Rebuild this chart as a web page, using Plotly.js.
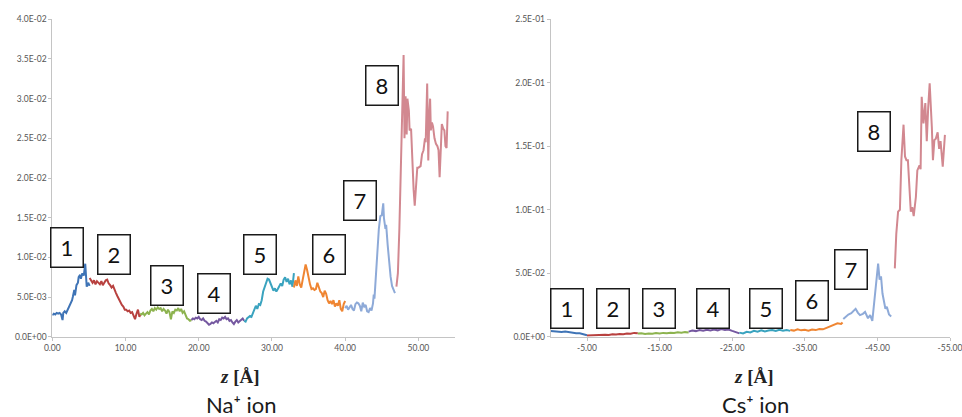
<!DOCTYPE html>
<html>
<head>
<meta charset="utf-8">
<script src="https://cdn.plot.ly/plotly-3.0.1.min.js"></script>
<style>
  html, body { margin: 0; padding: 0; background: #ffffff; }
  #plot { width: 962px; height: 417px; }
</style>
</head>
<body>
<div id="plot"></div>
<script>
// ---- Na+ ion: density along z [Å], one trace per region (1..8) ----
const naZ1 = [0.0,0.2,0.4,0.6,0.8,1.0,1.2,1.4,1.5,1.7,1.9,2.1,2.3,2.5,2.7,2.8,3.0,3.1,3.3,3.5,3.6,3.8,3.9,4.1,4.3,4.5,4.6,4.7,4.9,5.1];
const naV1 = [2.7,2.9,2.8,3.0,2.9,3.0,2.8,2.1,3.0,3.2,3.0,3.4,3.7,4.2,4.6,5.0,5.9,5.2,6.5,6.8,7.5,7.8,7.3,8.0,7.7,9.2,7.8,6.3,6.8,6.4];
const naZ2 = [5.1,5.3,5.5,5.7,5.9,6.1,6.3,6.5,6.7,6.9,7.1,7.3,7.5,7.7,7.9,8.1,8.3,8.5,8.7,8.9,9.1,9.3,9.5,9.7,9.9,10.1,10.3,10.5,10.7,10.9,11.1,11.3,11.5,11.7,11.9,12.0];
const naV2 = [7.4,7.0,6.8,7.1,6.6,7.0,6.8,6.6,7.0,6.5,6.8,7.1,7.2,6.7,6.5,6.2,6.4,5.8,5.5,5.1,4.7,4.4,4.0,3.8,3.4,3.4,3.2,3.3,3.0,3.1,2.6,2.2,2.9,3.4,2.5,2.8];
const naZ3 = [12.0,12.2,12.4,12.6,12.8,13.0,13.2,13.4,13.6,13.8,14.0,14.2,14.4,14.6,14.8,15.0,15.2,15.4,15.6,15.8,16.0,16.2,16.4,16.6,16.8,17.0,17.2,17.4,17.6,17.8,18.0,18.2,18.4,18.6,18.8,19.0];
const naV3 = [2.9,2.8,3.0,2.7,2.9,3.1,2.8,3.3,3.5,3.2,3.6,3.4,3.7,3.5,3.6,3.2,3.5,3.3,2.9,3.4,3.1,2.2,3.2,3.0,3.4,3.3,3.6,3.2,3.5,3.0,3.2,2.6,2.3,2.2,2.0,2.1];
const naZ4 = [19.0,19.2,19.4,19.6,19.8,20.0,20.2,20.4,20.6,20.8,21.0,21.2,21.4,21.6,21.8,22.0,22.2,22.4,22.6,22.8,23.0,23.2,23.4,23.6,23.8,24.0,24.2,24.4,24.6,24.8,25.0,25.2,25.4,25.6,25.8,26.0,26.2];
const naV4 = [2.1,2.3,2.2,2.4,2.3,2.5,2.2,2.1,2.3,2.0,1.9,1.7,1.5,1.6,1.8,1.7,1.9,2.0,1.8,2.2,2.1,2.4,2.3,2.5,2.2,2.3,2.0,2.1,1.8,1.6,1.9,2.1,1.8,2.0,2.1,2.3,2.0];
const naZ5 = [26.2,26.4,26.6,26.8,27.0,27.2,27.4,27.6,27.8,28.0,28.2,28.4,28.6,28.8,29.0,29.2,29.4,29.6,29.8,30.0,30.2,30.4,30.6,30.8,31.0,31.2,31.4,31.6,31.8,32.0,32.2,32.4,32.6,32.8,33.0];
const naV5 = [2.0,1.9,2.3,2.5,2.6,2.5,3.0,3.4,3.9,3.5,4.1,4.0,4.6,5.7,6.3,6.8,7.3,7.2,6.7,6.2,5.8,6.1,5.7,6.0,6.3,6.7,6.4,7.2,7.5,6.9,7.3,6.6,7.1,6.3,8.0];
const naZ6 = [33.0,33.2,33.4,33.6,33.8,34.0,34.2,34.4,34.6,34.8,35.0,35.2,35.4,35.6,35.8,36.0,36.2,36.4,36.6,36.8,37.0,37.2,37.4,37.6,37.8,38.0,38.2,38.4,38.6,38.8,39.0,39.2,39.4,39.6,39.8,40.0];
const naV6 = [6.2,7.1,6.4,7.6,6.6,6.2,7.2,8.3,9.1,8.4,7.3,6.6,6.0,6.1,5.9,6.0,6.8,6.2,5.7,5.5,5.0,5.8,5.4,4.6,4.2,4.5,4.1,4.6,3.8,4.2,3.9,4.6,3.5,3.2,4.1,4.5];
const naZ7 = [40.0,40.2,40.4,40.6,40.8,41.0,41.2,41.4,41.6,41.8,42.0,42.2,42.4,42.6,42.8,43.0,43.2,43.4,43.6,43.8,43.9,44.0,44.2,44.4,44.6,44.8,45.0,45.2,45.3,45.5,45.6,45.8,46.0,46.2,46.4,46.6,46.8];
const naV7 = [3.6,3.9,3.4,3.7,4.0,3.5,3.3,4.1,4.3,4.2,3.9,3.2,4.3,3.8,4.0,3.2,3.1,3.6,3.3,4.2,5.3,4.8,7.8,11.0,13.6,15.2,15.3,16.8,14.9,13.6,14.1,11.6,9.5,7.6,6.4,5.8,5.5];
const naZ8 = [47.0,47.2,47.4,47.6,47.8,47.98,48.1,48.25,48.4,48.5,48.7,48.8,49.0,49.2,49.35,49.5,49.7,49.85,50.0,50.3,50.5,50.7,50.9,51.0,51.2,51.35,51.5,51.6,51.7,51.85,52.0,52.2,52.4,52.6,52.75,52.9,53.1,53.2,53.4,53.55,53.7,53.85,54.0];
const naV8 = [6.3,8.0,13.5,22.7,28.0,35.5,25.0,30.3,25.5,30.0,28.5,26.0,26.2,21.0,18.5,16.5,20.0,21.3,21.3,21.5,23.0,23.5,25.0,24.5,31.9,22.2,28.0,30.0,26.0,27.0,26.5,25.0,24.3,24.0,23.5,20.1,24.5,26.8,26.2,26.0,24.0,23.8,28.4];
const naScale = 1e-3;   // values above are in units of 1E-03

// ---- Cs+ ion: density along z [Å] ----
const csZ1 = [0,-0.5,-1.0,-1.5,-2.0,-2.5,-3.0,-3.5,-4.0,-4.5,-5.0];
const csV1 = [0.45,0.42,0.44,0.38,0.40,0.34,0.33,0.28,0.27,0.20,0.12];
const csZ2 = [-5.0,-5.5,-6.0,-6.5,-7.0,-7.5,-8.0,-8.5,-9.0,-9.5,-10.0,-10.5,-11.0,-11.5,-12.0];
const csV2 = [0.10,0.12,0.08,0.14,0.12,0.16,0.14,0.19,0.17,0.22,0.20,0.26,0.24,0.30,0.27];
const csZ3 = [-12.0,-12.5,-13.0,-13.5,-14.0,-14.5,-15.0,-15.5,-16.0,-16.5,-17.0,-17.5,-18.0,-18.5,-19.0];
const csV3 = [0.25,0.28,0.22,0.26,0.24,0.29,0.25,0.30,0.27,0.32,0.29,0.35,0.31,0.36,0.34];
const csZ4 = [-19.0,-19.5,-20.0,-20.5,-21.0,-21.5,-22.0,-22.5,-23.0,-23.5,-24.0,-24.5,-25.0,-25.5,-26.0];
const csV4 = [0.40,0.48,0.44,0.52,0.47,0.55,0.49,0.56,0.50,0.60,0.53,0.57,0.46,0.38,0.26];
const csZ5 = [-26.0,-26.5,-27.0,-27.5,-28.0,-28.5,-29.0,-29.5,-30.0,-30.5,-31.0,-31.5,-32.0,-32.5,-33.0];
const csV5 = [0.32,0.25,0.38,0.33,0.46,0.40,0.50,0.42,0.48,0.52,0.45,0.54,0.47,0.52,0.46];
const csZ6 = [-33.0,-33.5,-34.0,-34.5,-35.0,-35.5,-36.0,-36.5,-37.0,-37.5,-38.0,-38.5,-39.0,-39.5,-40.0,-40.2];
const csV6 = [0.52,0.48,0.58,0.50,0.55,0.47,0.56,0.52,0.60,0.58,0.70,0.82,0.92,1.05,1.00,1.12];
const csZ7 = [-40.3,-40.6,-41.0,-41.4,-41.8,-42.0,-42.3,-42.6,-43.0,-43.3,-43.7,-44.0,-44.3,-44.5,-44.7,-44.9,-45.1,-45.3,-45.5,-45.7,-45.9,-46.1,-46.3,-46.6,-46.9];
const csV7 = [1.40,1.55,1.75,1.85,2.05,2.20,1.90,1.70,1.80,1.95,1.45,1.70,1.25,2.40,3.60,4.60,5.75,4.50,4.75,3.40,2.80,2.20,2.35,1.75,1.60];
const csZ8 = [-47.4,-47.6,-47.85,-48.1,-48.3,-48.6,-48.8,-49.0,-49.2,-49.5,-49.6,-49.8,-50.0,-50.3,-50.5,-50.8,-50.95,-51.1,-51.35,-51.6,-51.8,-52.0,-52.2,-52.5,-52.65,-52.85,-53.05,-53.3,-53.5,-53.7,-54.0,-54.3];
const csV8 = [5.38,8.1,9.85,10.0,13.9,16.7,14.2,13.9,13.9,10.8,9.85,10.2,9.5,11.0,13.1,13.5,13.2,18.9,16.8,18.4,15.4,18.1,19.95,16.5,13.9,15.5,15.6,16.1,14.8,15.4,13.4,15.9];
const csScale = 1e-2;   // values above are in units of 1E-02

const regionLabels = ['1','2','3','4','5','6','7','8'];
const regionColors = ['#3f74b6','#b8413f','#8db34f','#7558a0','#3aa3bf','#ef8532','#8eaad8','#d28890'];

const naTickVals = [0,0.005,0.010,0.015,0.020,0.025,0.030,0.035,0.040];
const naTickText = ['0.0E+00','5.0E-03','1.0E-02','1.5E-02','2.0E-02','2.5E-02','3.0E-02','3.5E-02','4.0E-02'];
const csTickVals = [0,0.05,0.10,0.15,0.20,0.25];
const csTickText = ['0.0E+00','5.0E-02','1.0E-01','1.5E-01','2.0E-01','2.5E-01'];
const naXTickVals = [0,10,20,30,40,50];
const naXTickText = ['0.00','10.00','20.00','30.00','40.00','50.00'];
const csXTickVals = [-5,-15,-25,-35,-45,-55];
const csXTickText = ['-5.00','-15.00','-25.00','-35.00','-45.00','-55.00'];

const naZ = [naZ1,naZ2,naZ3,naZ4,naZ5,naZ6,naZ7,naZ8];
const naV = [naV1,naV2,naV3,naV4,naV5,naV6,naV7,naV8];
const csZ = [csZ1,csZ2,csZ3,csZ4,csZ5,csZ6,csZ7,csZ8];
const csV = [csV1,csV2,csV3,csV4,csV5,csV6,csV7,csV8];

const traces = [];
naZ.forEach((z, i) => traces.push({
  x: z, y: naV[i].map(v => v * naScale), type: 'scatter', mode: 'lines',
  line: {color: regionColors[i], width: 2}, xaxis: 'x', yaxis: 'y', hoverinfo: 'skip'
}));
csZ.forEach((z, i) => traces.push({
  x: z, y: csV[i].map(v => v * csScale), type: 'scatter', mode: 'lines',
  line: {color: regionColors[i], width: 2}, xaxis: 'x2', yaxis: 'y2', hoverinfo: 'skip'
}));

// page geometry in pixels
const W = 962, H = 417;
const px = x => x / W;
const py = y => 1 - y / H;

const tickFont = {family: 'Lato, "Liberation Sans", sans-serif', size: 8.5, color: '#555555'};
const axisCommon = {
  showgrid: false, zeroline: false, showline: true, linecolor: '#c4c4c4', linewidth: 1,
  ticks: 'outside', ticklen: 3, tickcolor: '#c4c4c4', tickfont: tickFont, tickmode: 'array',
  ticklabeloverflow: 'allow', fixedrange: true
};

const yDom = [py(336.7), py(19.3)];

// numbered region boxes, pixel centres
const naBoxPos = [[67,247],[113.7,254.5],[167,285.3],[213.7,293.3],[259.5,254.5],[328.7,254.5],[359.5,200.8],[382,85.5]];
const csBoxPos = [[566.7,308.7],[613,308.7],[659.2,308.7],[712.5,308.7],[766.2,308.7],[812,300.5],[850.8,269.7],[873.8,131.3]];

const annotations = [];
function addBox(label, pos) {
  annotations.push({
    xref: 'paper', yref: 'paper', x: px(pos[0]), y: py(pos[1]),
    xanchor: 'center', yanchor: 'middle', showarrow: false,
    text: label, font: {family: 'Lato, "Noto Sans", sans-serif', size: 22, color: '#111111'},
    bgcolor: '#ffffff', bordercolor: '#1a1a1a', borderwidth: 1.5, borderpad: 1,
    width: 29, height: 36, align: 'center', valign: 'middle'
  });
}
regionLabels.forEach((l, i) => addBox(l, naBoxPos[i]));
regionLabels.forEach((l, i) => addBox(l, csBoxPos[i]));

const titleFont = {family: '"Liberation Serif", "Times New Roman", serif', size: 19, color: '#222222'};
const ionFont = {family: 'Lato, "Noto Sans", sans-serif', size: 22, color: '#1a1a1a'};
[[240, 'Na⁺ ion'], [753.5, 'Cs⁺ ion']].forEach(([cx, ion]) => {
  annotations.push({xref: 'paper', yref: 'paper', x: px(cx), y: py(376), xanchor: 'center', yanchor: 'middle',
    showarrow: false, text: '<b><i>z</i> [Å]</b>', font: titleFont});
  annotations.push({xref: 'paper', yref: 'paper', x: px(cx + 1.5), y: py(404.5), xanchor: 'center', yanchor: 'middle',
    showarrow: false, text: ion, font: ionFont});
});

const layout = {
  width: W, height: H,
  margin: {l: 0, r: 0, t: 0, b: 0},
  paper_bgcolor: '#ffffff', plot_bgcolor: '#ffffff',
  showlegend: false,
  xaxis: Object.assign({}, axisCommon, {domain: [px(52.3), px(455)], range: [0, 55], anchor: 'y',
    tickvals: naXTickVals, ticktext: naXTickText}),
  yaxis: Object.assign({}, axisCommon, {domain: yDom, range: [0, 0.04], anchor: 'x',
    tickvals: naTickVals, ticktext: naTickText}),
  xaxis2: Object.assign({}, axisCommon, {domain: [px(550.7), px(950)], range: [0, -55], anchor: 'y2',
    tickvals: csXTickVals, ticktext: csXTickText}),
  yaxis2: Object.assign({}, axisCommon, {domain: yDom, range: [0, 0.25], anchor: 'x2',
    tickvals: csTickVals, ticktext: csTickText}),
  annotations: annotations
};

Plotly.newPlot('plot', traces, layout, {displayModeBar: false, staticPlot: true});
</script>
</body>
</html>
